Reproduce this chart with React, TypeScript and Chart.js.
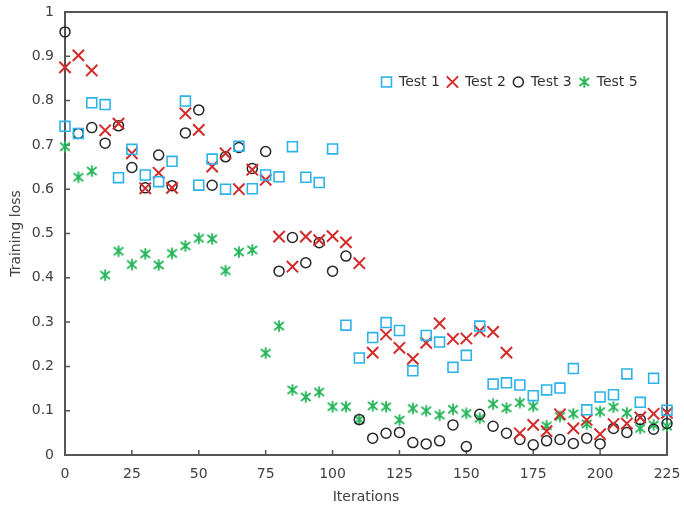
import React, { useEffect, useRef } from "react";
import { Chart, registerables } from "chart.js";

Chart.register(...registerables);

const iterations = [0, 5, 10, 15, 20, 25, 30, 35, 40, 45, 50, 55, 60, 65, 70, 75, 80, 85, 90, 95, 100, 105, 110, 115, 120, 125, 130, 135, 140, 145, 150, 155, 160, 165, 170, 175, 180, 185, 190, 195, 200, 205, 210, 215, 220, 225];

const test1 = [0.742, 0.726, 0.795, 0.791, 0.626, 0.690, 0.632, 0.617, 0.663, 0.799, 0.609, 0.668, 0.600, 0.697, 0.601, 0.632, 0.628, 0.696, 0.627, 0.615, 0.691, 0.293, 0.219, 0.265, 0.299, 0.281, 0.190, 0.270, 0.255, 0.198, 0.225, 0.291, 0.160, 0.163, 0.158, 0.134, 0.147, 0.151, 0.195, 0.102, 0.131, 0.136, 0.183, 0.119, 0.173, 0.101];

const test2 = [0.875, 0.902, 0.868, 0.733, 0.748, 0.681, 0.602, 0.637, 0.603, 0.771, 0.734, 0.651, 0.681, 0.600, 0.644, 0.621, 0.493, 0.425, 0.493, 0.485, 0.494, 0.480, 0.433, 0.231, 0.272, 0.242, 0.217, 0.253, 0.297, 0.262, 0.263, 0.280, 0.278, 0.231, 0.049, 0.068, 0.054, 0.092, 0.060, 0.079, 0.047, 0.070, 0.071, 0.085, 0.093, 0.095];

const test3 = [0.955, 0.726, 0.739, 0.704, 0.743, 0.649, 0.603, 0.677, 0.608, 0.727, 0.779, 0.609, 0.673, 0.694, 0.647, 0.685, 0.415, 0.491, 0.434, 0.479, 0.415, 0.449, 0.080, 0.038, 0.049, 0.051, 0.028, 0.025, 0.032, 0.068, 0.019, 0.092, 0.065, 0.049, 0.035, 0.023, 0.032, 0.035, 0.026, 0.038, 0.025, 0.060, 0.051, 0.080, 0.058, 0.071];

const test5 = [0.696, 0.627, 0.641, 0.406, 0.460, 0.430, 0.454, 0.429, 0.455, 0.472, 0.489, 0.488, 0.416, 0.458, 0.463, 0.230, 0.291, 0.147, 0.131, 0.142, 0.109, 0.109, 0.080, 0.111, 0.109, 0.079, 0.105, 0.100, 0.090, 0.103, 0.094, 0.083, 0.115, 0.106, 0.118, 0.110, 0.066, 0.087, 0.093, 0.070, 0.098, 0.108, 0.095, 0.060, 0.068, 0.065];

const seriesLabels = ["Test 1", "Test 2", "Test 3", "Test 5"];
const BLUE = "#2bb3ea";
const RED = "#d42a2a";
const BLACK = "#262626";
const GREEN = "#24b457";
const AXIS = "#555555";
const TEXT = "#404040";
const FONT = "'DejaVu Sans', Verdana, sans-serif";

function makeAsterisk(color: string): HTMLCanvasElement {
  const c = document.createElement("canvas");
  c.width = 14;
  c.height = 14;
  const g = c.getContext("2d")!;
  g.strokeStyle = color;
  g.lineWidth = 1.8;
  g.lineCap = "butt";
  g.beginPath();
  g.moveTo(7, 1.2);
  g.lineTo(7, 12.8);
  g.moveTo(2.2, 3);
  g.lineTo(11.8, 11);
  g.moveTo(11.8, 3);
  g.lineTo(2.2, 11);
  g.stroke();
  return c;
}

function drawMarker(ctx: CanvasRenderingContext2D, kind: string, x: number, y: number, color: string, star?: HTMLCanvasElement) {
  ctx.save();
  ctx.strokeStyle = color;
  if (kind === "rect") {
    ctx.lineWidth = 1.6;
    const s = 7 * Math.SQRT1_2;
    ctx.strokeRect(x - s, y - s, 2 * s, 2 * s);
  } else if (kind === "crossRot") {
    ctx.lineWidth = 2;
    const o = 8 * Math.SQRT1_2;
    ctx.beginPath();
    ctx.moveTo(x - o, y - o);
    ctx.lineTo(x + o, y + o);
    ctx.moveTo(x + o, y - o);
    ctx.lineTo(x - o, y + o);
    ctx.stroke();
  } else if (kind === "circle") {
    ctx.lineWidth = 1.5;
    ctx.beginPath();
    ctx.arc(x, y, 5, 0, Math.PI * 2);
    ctx.stroke();
  } else if (star) {
    ctx.drawImage(star, x - star.width / 2, y - star.height / 2);
  }
  ctx.restore();
}

export default function App() {
  const ref = useRef<HTMLCanvasElement | null>(null);

  useEffect(() => {
    if (!ref.current) return;
    const star = makeAsterisk(GREEN);
    const toPts = (vals: number[]) => vals.map((v, i) => ({ x: iterations[i], y: v }));

    const frame = {
      id: "frame",
      beforeDatasetsDraw(chart: any) {
        const { ctx, chartArea: a, scales } = chart;
        ctx.save();
        ctx.strokeStyle = AXIS;
        ctx.lineWidth = 2;
        ctx.strokeRect(a.left, a.top, a.right - a.left, a.bottom - a.top);
        ctx.lineWidth = 1.5;
        ctx.beginPath();
        scales.x.ticks.forEach((t: any) => {
          const px = scales.x.getPixelForValue(t.value);
          ctx.moveTo(px, a.bottom);
          ctx.lineTo(px, a.bottom - 5);
        });
        scales.y.ticks.forEach((t: any) => {
          const py = scales.y.getPixelForValue(t.value);
          ctx.moveTo(a.left, py);
          ctx.lineTo(a.left + 5, py);
        });
        ctx.stroke();
        ctx.restore();
      },
      afterDraw(chart: any) {
        const { ctx, chartArea: a } = chart;
        ctx.save();
        ctx.font = "14px " + FONT;
        ctx.fillStyle = "#333333";
        ctx.textBaseline = "middle";
        const kinds = ["rect", "crossRot", "circle", "star"];
        const colors = [BLUE, RED, BLACK, GREEN];
        const y = a.top + 70;
        let x = a.left + 321.5;
        seriesLabels.forEach((lab, i) => {
          drawMarker(ctx, kinds[i], x, y, colors[i], star);
          const tx = x + 12.5;
          ctx.fillText(lab, tx, y + 0.5);
          x = tx + ctx.measureText(lab).width + 12.5;
        });
        ctx.restore();
      },
    };

    const chart = new Chart(ref.current, {
      type: "scatter",
      data: {
        datasets: [
          { label: seriesLabels[0], data: toPts(test1), clip: false, pointStyle: "rect", pointRadius: 7, pointHoverRadius: 7, borderColor: BLUE, backgroundColor: "rgba(0,0,0,0)", borderWidth: 1.6 },
          { label: seriesLabels[1], data: toPts(test2), clip: false, pointStyle: "crossRot", pointRadius: 8, pointHoverRadius: 8, borderColor: RED, backgroundColor: "rgba(0,0,0,0)", borderWidth: 2 },
          { label: seriesLabels[2], data: toPts(test3), clip: false, pointStyle: "circle", pointRadius: 5, pointHoverRadius: 5, borderColor: BLACK, backgroundColor: "rgba(0,0,0,0)", borderWidth: 1.5 },
          { label: seriesLabels[3], data: toPts(test5), clip: false, pointStyle: star as any, pointRadius: 6, borderColor: GREEN, backgroundColor: GREEN },
        ],
      },
      options: {
        responsive: false,
        animation: false,
        events: [],
        layout: { padding: { top: 12, right: 17, left: 0, bottom: 0 } },
        plugins: { legend: { display: false }, tooltip: { enabled: false } },
        scales: {
          x: {
            type: "linear",
            min: 0,
            max: 225,
            grid: { display: false, drawTicks: false },
            border: { display: false },
            ticks: { stepSize: 25, padding: 11, color: TEXT, font: { family: FONT, size: 14 }, maxRotation: 0 },
            title: { display: true, text: "Iterations", color: TEXT, font: { family: FONT, size: 14 }, padding: { top: 0, bottom: 4 } },
            afterFit: (s: any) => { s.height = 55; s.paddingLeft = 0; s.paddingRight = 0; },
          },
          y: {
            type: "linear",
            min: 0,
            max: 1,
            grid: { display: false, drawTicks: false },
            border: { display: false },
            ticks: {
              stepSize: 0.1,
              padding: 11,
              color: TEXT,
              font: { family: FONT, size: 14 },
              callback: (v: any) => String(Math.round(Number(v) * 10) / 10),
            },
            title: { display: true, text: "Training loss", color: TEXT, font: { family: FONT, size: 14 }, padding: { top: 8, bottom: 0 } },
            afterFit: (s: any) => { s.width = 65; s.paddingTop = 0; s.paddingBottom = 0; },
          },
        },
      },
      plugins: [frame],
    });
    return () => chart.destroy();
  }, []);

  return (
    <div style={{ position: "absolute", left: 0, top: 0, width: 684, height: 510, background: "#ffffff" }}>
      <canvas ref={ref} width={684} height={510} style={{ display: "block", width: 684, height: 510 }} />
    </div>
  );
}
